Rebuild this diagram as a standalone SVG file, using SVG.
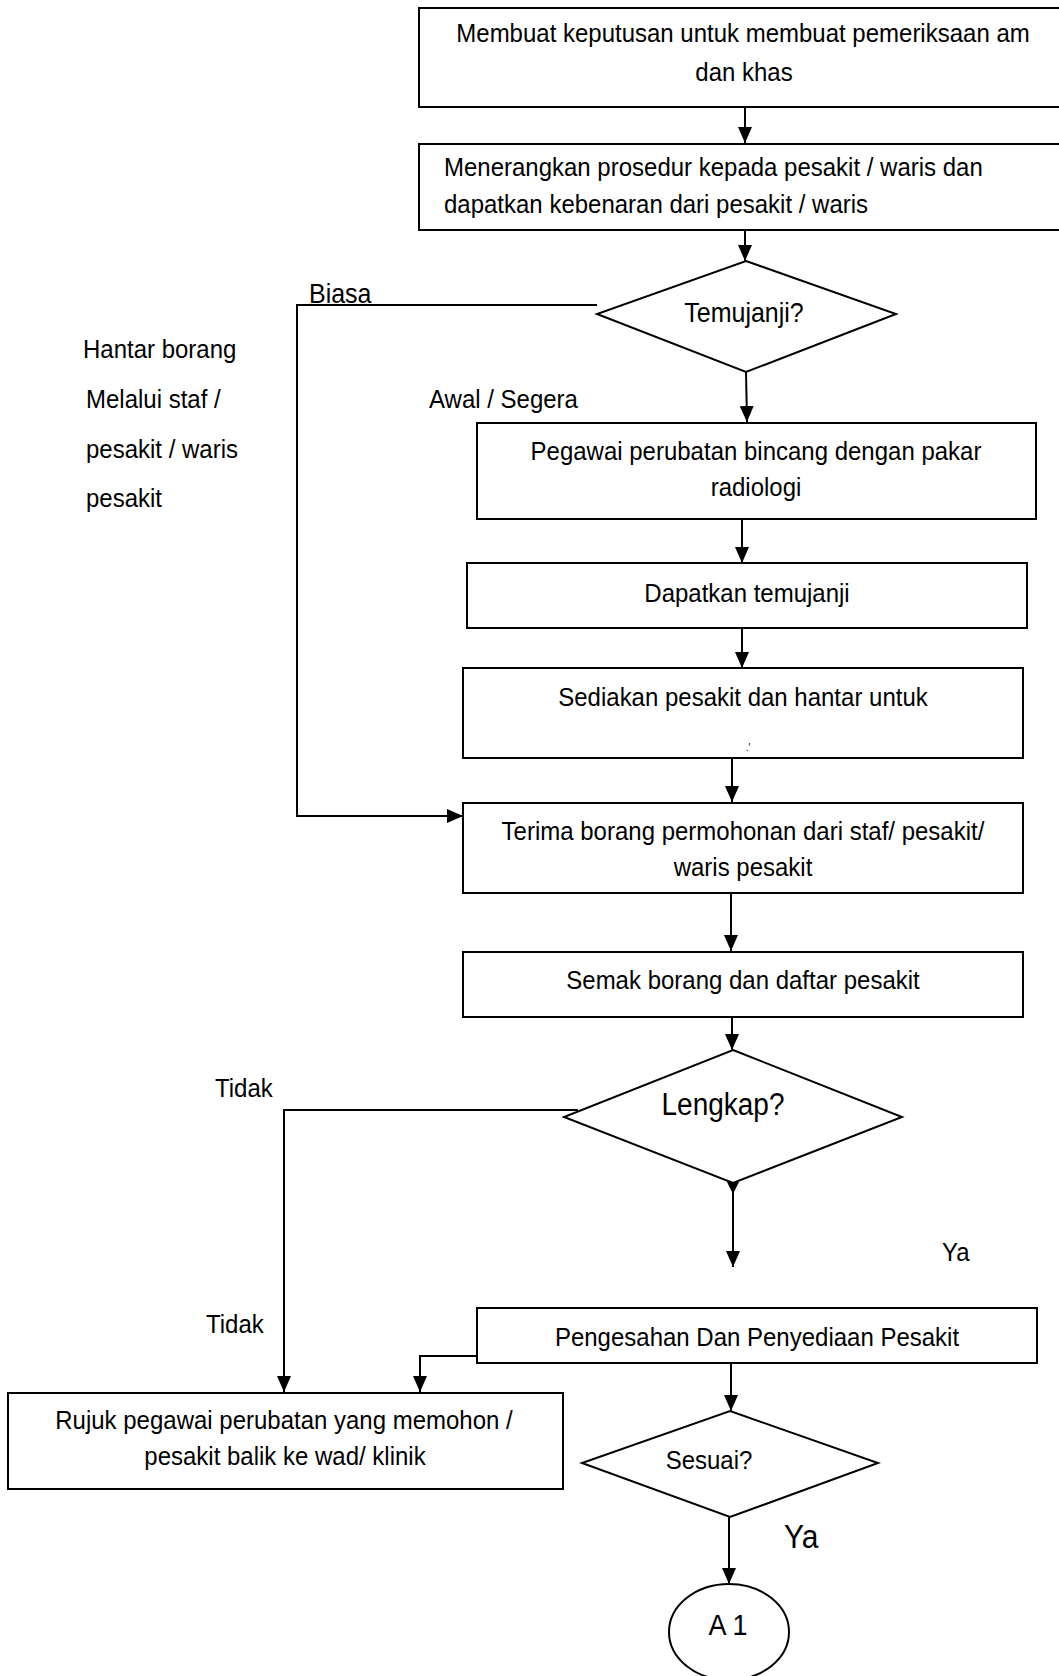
<svg xmlns="http://www.w3.org/2000/svg" width="1059" height="1676" viewBox="0 0 1059 1676">
<defs>
<marker id="ah" markerUnits="userSpaceOnUse" markerWidth="16" markerHeight="14" refX="16" refY="7" orient="auto">
<path d="M0,0 L16,7 L0,14 z" fill="#000"/>
</marker>
<style>
.box{fill:#fff;stroke:#000;stroke-width:2}
.dec{fill:#fff;stroke:#000;stroke-width:2}
.ln{fill:none;stroke:#000;stroke-width:2}
.ar{fill:none;stroke:#000;stroke-width:2;marker-end:url(#ah)}
text{font-family:"Liberation Sans",Arial,sans-serif;font-size:24px;fill:#000}
.c{text-anchor:middle}
</style>
</defs>
<rect width="1059" height="1676" fill="#fff"/>

<g id="connectors">
<line class="ar" x1="745" y1="107" x2="745" y2="143"/>
<line class="ar" x1="745" y1="230" x2="745" y2="261"/>
<line class="ar" x1="746" y1="372" x2="747" y2="422"/>
<line class="ar" x1="742" y1="519" x2="742" y2="563"/>
<line class="ar" x1="742" y1="628" x2="742" y2="668"/>
<line class="ar" x1="732" y1="758" x2="732" y2="802"/>
<polyline class="ar" points="597,305 297,305 297,816 463,816"/>
<line class="ar" x1="731" y1="893" x2="731" y2="951"/>
<line class="ar" x1="732" y1="1017" x2="732" y2="1050"/>
<polyline class="ar" points="578,1110 284,1110 284,1392"/>
<polygon points="727,1182 739,1182 733,1194" fill="#000"/>
<line class="ar" x1="733" y1="1183" x2="733" y2="1267"/>
<polyline class="ar" points="477,1356 420,1356 420,1392"/>
<line class="ar" x1="731" y1="1363" x2="731" y2="1411"/>
<line class="ar" x1="729" y1="1517" x2="729" y2="1584"/>
</g>

<g id="lbl-biasa"><text transform="translate(309 303) scale(1 1.1)" style="font-size:25px">Biasa</text></g>
<g id="lbl-hantar">
<text transform="translate(83 358) scale(1 1.1)">Hantar borang</text>
<text transform="translate(86 408) scale(1 1.1)">Melalui staf /</text>
<text transform="translate(86 458) scale(1 1.1)">pesakit / waris</text>
<text transform="translate(86 507) scale(1 1.1)">pesakit</text>
</g>
<g id="lbl-awal"><text transform="translate(429 408) scale(1 1.1)">Awal / Segera</text></g>
<g id="lbl-tidak1"><text transform="translate(215 1097) scale(1 1.1)">Tidak</text></g>
<g id="lbl-ya1"><text transform="translate(942 1261) scale(1 1.1)">Ya</text></g>
<g id="lbl-tidak2"><text transform="translate(206 1333) scale(1 1.1)">Tidak</text></g>
<g id="lbl-ya2"><text transform="translate(784 1548) scale(1 1.1)" style="font-size:30px">Ya</text></g>

<g id="n1">
<rect class="box" x="419" y="8" width="645" height="99"/>
<text class="c" transform="translate(743 42) scale(1 1.1)">Membuat keputusan untuk membuat pemeriksaan am</text>
<text class="c" transform="translate(744 81) scale(1 1.1)">dan khas</text>
</g>
<g id="n2">
<rect class="box" x="419" y="144" width="645" height="86"/>
<text transform="translate(444 176) scale(1 1.1)">Menerangkan prosedur kepada pesakit / waris dan</text>
<text transform="translate(444 213) scale(1 1.1)">dapatkan kebenaran dari pesakit / waris</text>
</g>
<g id="n3">
<polygon class="dec" points="746,261 896,314 746,372 597,314"/>
<text class="c" transform="translate(744 322) scale(1 1.1)" style="font-size:25px">Temujanji?</text>
</g>
<g id="n4">
<rect class="box" x="477" y="423" width="559" height="96"/>
<text class="c" transform="translate(756 460) scale(1 1.1)">Pegawai perubatan  bincang dengan pakar</text>
<text class="c" transform="translate(756 496) scale(1 1.1)">radiologi</text>
</g>
<g id="n5">
<rect class="box" x="467" y="563" width="560" height="65"/>
<text class="c" transform="translate(747 602) scale(1 1.1)">Dapatkan temujanji</text>
</g>
<g id="n6">
<rect class="box" x="463" y="668" width="560" height="90"/>
<text class="c" transform="translate(743 706) scale(1 1.1)">Sediakan pesakit dan hantar untuk</text>
<text class="c" x="748" y="751" style="font-size:10px">.'</text>
</g>
<g id="n7">
<rect class="box" x="463" y="803" width="560" height="90"/>
<text class="c" transform="translate(743 840) scale(1 1.1)">Terima borang permohonan dari staf/ pesakit/</text>
<text class="c" transform="translate(743 876) scale(1 1.1)">waris pesakit</text>
</g>
<g id="n8">
<rect class="box" x="463" y="952" width="560" height="65"/>
<text class="c" transform="translate(743 989) scale(1 1.1)">Semak borang dan daftar pesakit</text>
</g>
<g id="n9">
<polygon class="dec" points="733,1050 902,1117 733,1183 564,1117"/>
<text class="c" transform="translate(723 1115) scale(1 1.1)" style="font-size:28px">Lengkap?</text>
</g>
<g id="n10">
<rect class="box" x="477" y="1308" width="560" height="55"/>
<text class="c" transform="translate(757 1346) scale(1 1.1)">Pengesahan Dan Penyediaan Pesakit</text>
</g>
<g id="n11">
<rect class="box" x="8" y="1393" width="555" height="96"/>
<text class="c" transform="translate(284 1429) scale(1 1.1)">Rujuk pegawai perubatan yang memohon /</text>
<text class="c" transform="translate(285 1465) scale(1 1.1)">pesakit balik ke wad/ klinik</text>
</g>
<g id="n12">
<polygon class="dec" points="730,1411 878,1463 730,1517 582,1463"/>
<text class="c" transform="translate(709 1469) scale(1 1.1)">Sesuai?</text>
</g>
<g id="n13">
<ellipse class="box" cx="729" cy="1632" rx="60" ry="48"/>
<text class="c" transform="translate(728 1635) scale(1 1.1)" style="font-size:27px">A 1</text>
</g>
</svg>
